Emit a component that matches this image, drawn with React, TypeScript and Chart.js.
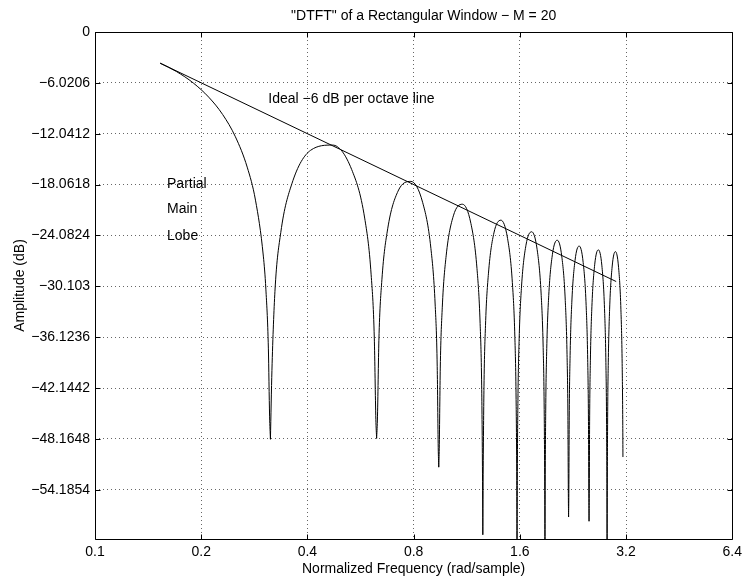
import React, { useEffect, useRef } from "react";
import { Chart, registerables } from "chart.js";

Chart.register(...registerables);

// ---- text ----
const titleText = "\"DTFT\" of a Rectangular Window \u2212 M = 20";
const xTitle = "Normalized Frequency (rad/sample)";
const yTitle = "Amplitude (dB)";

// ---- axes ----
const xTickValues = [0.1, 0.2, 0.4, 0.8, 1.6, 3.2, 6.4];
const xTickLabels = ["0.1", "0.2", "0.4", "0.8", "1.6", "3.2", "6.4"];
const yTickValues = [0, -6.0206, -12.0412, -18.0618, -24.0824, -30.103, -36.1236, -42.1442, -48.1648, -54.1854];
const yTickLabels = ["0", "\u22126.0206", "\u221212.0412", "\u221218.0618", "\u221224.0824", "\u221230.103", "\u221236.1236", "\u221242.1442", "\u221248.1648", "\u221254.1854"];
const xMin = 0.1;
const xMax = 6.4;
const yMin = -60;
const yMax = 0;

// ---- series: [frequency (rad/sample), amplitude (dB)] ----
const idealLine = [[0.153, -3.69], [3.0, -29.53]];

const mainLobe = [
  [0.153, -3.69], [0.17, -4.67], [0.19, -6.04], [0.21, -7.71], [0.23, -9.76], [0.25, -12.4],
  [0.27, -15.99], [0.285, -19.9], [0.3, -26.52], [0.305, -30.43], [0.31, -37.41], [0.3125, -45.46], [0.3142, -48.2],
];
const sideLobe1 = [
  [0.3142, -48.2], [0.3173, -40.05], [0.3236, -30.69], [0.3362, -23.71], [0.3613, -17.97], [0.4084, -14.0], [0.4712, -13.38],
  [0.5341, -16.29], [0.5812, -22.02], [0.6063, -28.74], [0.6189, -36.22], [0.6252, -45.84], [0.6283, -48.1],
];
const sideLobe2 = [
  [0.6283, -48.1], [0.6315, -45.92], [0.6377, -36.48], [0.6503, -29.33], [0.6754, -23.29], [0.7226, -18.83], [0.7854, -17.68],
  [0.8482, -20.15], [0.8954, -25.61], [0.9205, -32.19], [0.9331, -39.61], [0.9393, -49.19], [0.9425, -51.5],
];
const sideLobe3 = [
  [0.9425, -51.5], [0.9456, -49.25], [0.9519, -39.77], [0.9645, -32.57], [0.9896, -26.41], [1.0367, -21.76], [1.0996, -20.38],
  [1.1624, -22.65], [1.2095, -27.98], [1.2346, -34.49], [1.2472, -41.88], [1.2535, -51.45], [1.2566, -59.5],
];
const sideLobe4 = [
  [1.2566, -59.5], [1.2598, -51.48], [1.2661, -41.99], [1.2786, -34.75], [1.3038, -28.54], [1.3509, -23.78], [1.4137, -22.27],
  [1.4765, -24.42], [1.5237, -29.66], [1.5488, -36.13], [1.5614, -43.5], [1.5677, -53.06], [1.5708, -66],
];
const sideLobe5 = [
  [1.5708, -66], [1.5739, -53.08], [1.5802, -43.58], [1.5928, -36.32], [1.6179, -30.07], [1.665, -25.24], [1.7279, -23.64],
  [1.7907, -25.71], [1.8378, -30.89], [1.863, -37.33], [1.8755, -44.68], [1.8818, -54.23], [1.885, -66],
];
const sideLobe6 = [
  [1.885, -66], [1.8881, -54.25], [1.8944, -44.74], [1.907, -37.47], [1.9321, -31.19], [1.9792, -26.31], [2.042, -24.64],
  [2.1049, -26.64], [2.152, -31.77], [2.1771, -38.19], [2.1897, -45.53], [2.196, -55.07], [2.1991, -57.4],
];
const sideLobe7 = [
  [2.1991, -57.4], [2.2023, -55.09], [2.2085, -45.57], [2.2211, -38.29], [2.2462, -31.98], [2.2934, -27.05], [2.3562, -25.33],
  [2.419, -27.29], [2.4662, -32.38], [2.4913, -38.78], [2.5039, -46.11], [2.5101, -55.65], [2.5133, -57.9],
];
const sideLobe8 = [
  [2.5133, -57.9], [2.5164, -55.65], [2.5227, -46.13], [2.5353, -38.84], [2.5604, -32.51], [2.6075, -27.55], [2.6704, -25.78],
  [2.7332, -27.68], [2.7803, -32.74], [2.8054, -39.12], [2.818, -46.44], [2.8243, -55.97], [2.8274, -66],
];
const sideLobe9 = [
  [2.8274, -66], [2.8306, -55.98], [2.8368, -46.45], [2.8494, -39.15], [2.8745, -32.8], [2.9217, -27.81], [2.9845, -25.99],
  [3.0473, -27.85], [3.0945, -32.88], [3.1196, -39.24], [3.1322, -46.55], [3.1354, -50.3],
];

// ---- annotations (data coordinates) ----
const annotationTexts = ["Ideal \u22126 dB per octave line", "Partial", "Main", "Lobe"];
const annotationX = [0.31, 0.16, 0.16, 0.16];
const annotationY = [-8.0, -18.06, -21.0, -24.1];

const FONT = "'Liberation Sans', Arial, Helvetica, sans-serif";

const framePlugin = {
  id: "frameAndText",
  afterDraw(chart: any) {
    const { ctx, chartArea: a, scales } = chart;
    ctx.save();
    ctx.strokeStyle = "#000";
    ctx.lineWidth = 1;
    const L = Math.round(a.left) + 0.5;
    const T = Math.round(a.top) + 0.5;
    const R = Math.round(a.right) + 0.5;
    const B = Math.round(a.bottom) + 0.5;
    ctx.beginPath();
    ctx.rect(L, T, R - L, B - T);
    const tl = 5;
    for (const v of xTickValues) {
      const px = Math.round(scales.x.getPixelForValue(v)) + 0.5;
      ctx.moveTo(px, T);
      ctx.lineTo(px, T + tl);
      ctx.moveTo(px, B);
      ctx.lineTo(px, B - tl);
    }
    for (const v of yTickValues) {
      const py = Math.round(scales.y.getPixelForValue(v)) + 0.5;
      ctx.moveTo(L, py);
      ctx.lineTo(L + tl, py);
      ctx.moveTo(R, py);
      ctx.lineTo(R - tl, py);
    }
    ctx.stroke();

    ctx.fillStyle = "#000";
    ctx.font = `14px ${FONT}`;
    ctx.textBaseline = "middle";
    ctx.textAlign = "left";
    annotationTexts.forEach((t, i) => {
      ctx.fillText(t, scales.x.getPixelForValue(annotationX[i]), scales.y.getPixelForValue(annotationY[i]));
    });
    ctx.textAlign = "center";
    ctx.fillText(titleText, (a.left + a.right) / 2 + 10, 16);
    ctx.restore();
  },
};

const toPts = (arr: number[][]) => arr.map(([x, y]) => ({ x, y }));

export default function App() {
  const ref = useRef<HTMLCanvasElement | null>(null);

  useEffect(() => {
    if (!ref.current) return;
    const lobes = [mainLobe, sideLobe1, sideLobe2, sideLobe3, sideLobe4, sideLobe5, sideLobe6, sideLobe7, sideLobe8, sideLobe9];
    const datasets: any[] = lobes.map((lobe, i) => ({
      label: i === 0 ? "Main lobe" : `Side lobe ${i}`,
      data: toPts(lobe),
      borderColor: "#000",
      borderWidth: 1,
      pointRadius: 0,
      fill: false,
      cubicInterpolationMode: "monotone",
    }));
    datasets.push({
      label: "Ideal -6 dB per octave",
      data: toPts(idealLine),
      borderColor: "#000",
      borderWidth: 1,
      pointRadius: 0,
      fill: false,
      tension: 0,
    });

    const chart = new Chart(ref.current, {
      type: "line",
      data: { datasets },
      plugins: [framePlugin],
      options: {
        animation: false,
        responsive: false,
        events: [],
        layout: { padding: { top: 32, right: 9, left: 0, bottom: 0 } },
        plugins: {
          legend: { display: false },
          tooltip: { enabled: false },
          title: { display: false },
        },
        scales: {
          x: {
            type: "logarithmic",
            min: xMin,
            max: xMax,
            afterBuildTicks: (s: any) => {
              s.ticks = xTickValues.map((v) => ({ value: v }));
            },
            afterFit: (s: any) => {
              s.height = 37;
            },
            ticks: {
              autoSkip: false,
              maxRotation: 0,
              padding: 5,
              color: "#000",
              font: { family: FONT, size: 14 },
              callback: (_v: any, i: number) => xTickLabels[i],
            },
            grid: { color: "rgba(0,0,0,0.6)", lineWidth: 1, drawTicks: false },
            border: { display: false, dash: [1, 3] },
            title: {
              display: true,
              text: xTitle,
              color: "#000",
              font: { family: FONT, size: 14, lineHeight: 1 },
              padding: 0,
            },
          },
          y: {
            type: "linear",
            min: yMin,
            max: yMax,
            afterBuildTicks: (s: any) => {
              s.ticks = yTickValues.map((v) => ({ value: v }));
            },
            afterFit: (s: any) => {
              s.width = 95;
            },
            ticks: {
              autoSkip: false,
              padding: 5,
              color: "#000",
              font: { family: FONT, size: 14 },
              callback: (v: any) => {
                const idx = yTickValues.findIndex((t) => Math.abs(t - v) < 1e-6);
                return idx >= 0 ? yTickLabels[idx] : "";
              },
            },
            grid: { color: "rgba(0,0,0,0.6)", lineWidth: 1, drawTicks: false },
            border: { display: false, dash: [1, 3] },
            title: {
              display: true,
              text: yTitle,
              color: "#000",
              font: { family: FONT, size: 14, lineHeight: 1 },
              padding: { top: 13, bottom: 0 },
            },
          },
        },
      } as any,
    });
    return () => chart.destroy();
  }, []);

  return (
    <div style={{ position: "absolute", left: 0, top: 0, width: 747, height: 576, background: "#fff" }}>
      <canvas ref={ref} width={747} height={576} style={{ display: "block" }} />
    </div>
  );
}
